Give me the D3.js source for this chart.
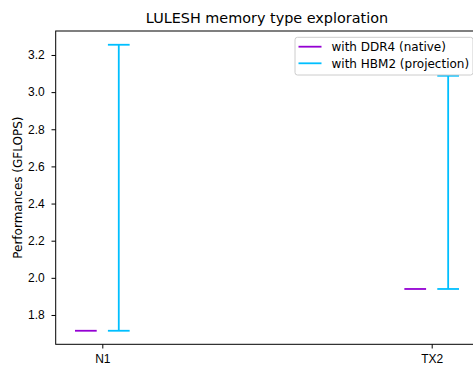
<!DOCTYPE html>
<html>
<head>
<meta charset="utf-8">
<script src="https://cdn.jsdelivr.net/npm/d3@7"></script>
<style>
  body { margin: 0; background: #fff; }
  svg { display: block; font-family: "DejaVu Sans", sans-serif; }
</style>
</head>
<body>
<svg id="chart" width="473" height="367"></svg>
<script>
// Machines and measured / projected performance (GFLOPS)
const machines = ["N1", "TX2"];
const ddr4Native = [1.715, 1.94];
const hbm2Low = [1.715, 1.94];
const hbm2High = [3.255, 3.088];
const yTicks = [1.8, 2.0, 2.2, 2.4, 2.6, 2.8, 3.0, 3.2];
const seriesNames = ["with DDR4 (native)", "with HBM2 (projection)"];
const seriesColors = ["#9400d3", "#00bfff"];

const svg = d3.select("#chart");
const plotL = 55.7, plotR = 478.3, plotT = 31, plotB = 344.3;

const x = d3.scaleLinear().domain([-0.1415, 1.1415]).range([plotL, plotR]);
const y = d3.scaleLinear().domain([1.6421, 3.3291]).range([plotB, plotT]);
const offset = 0.05;      // side-by-side shift of the two series
const halfCap = 0.033;    // half width of markers / caps

// x axis
const xAxis = d3.axisBottom(x).tickValues([0, 1]).tickFormat((d, i) => machines[i])
  .tickSize(4.2).tickSizeOuter(0);
const gx = svg.append("g").attr("transform", `translate(0,${plotB})`).call(xAxis);
gx.select(".domain").remove();
gx.selectAll("text").attr("font-size", 12).attr("fill", "#000").attr("y", 18.3).attr("dy", null);
gx.selectAll("line").attr("stroke", "#000").attr("stroke-width", 1);

// y axis
const yAxis = d3.axisLeft(y).tickValues(yTicks).tickFormat(d3.format(".1f"))
  .tickSize(4.2).tickSizeOuter(0);
const gy = svg.append("g").attr("transform", `translate(${plotL},0)`).call(yAxis);
gy.select(".domain").remove();
gy.selectAll("text").attr("font-size", 12).attr("fill", "#000").attr("x", -11);
gy.selectAll("line").attr("stroke", "#000").attr("stroke-width", 1);

// axes frame
svg.append("rect").attr("x", plotL).attr("y", plotT)
  .attr("width", plotR - plotL).attr("height", plotB - plotT)
  .attr("fill", "none").attr("stroke", "#000").attr("stroke-width", 1);

// DDR4 native markers
svg.append("g").selectAll("line").data(ddr4Native).join("line")
  .attr("x1", (d, i) => x(i - offset - halfCap))
  .attr("x2", (d, i) => x(i - offset + halfCap))
  .attr("y1", d => y(d)).attr("y2", d => y(d))
  .attr("stroke", seriesColors[0]).attr("stroke-width", 1.8);

// HBM2 projection ranges
const eb = svg.append("g").selectAll("g").data(machines).join("g")
  .attr("stroke", seriesColors[1]).attr("stroke-width", 1.8);
eb.append("line")
  .attr("x1", (d, i) => x(i + offset)).attr("x2", (d, i) => x(i + offset))
  .attr("y1", (d, i) => y(hbm2Low[i])).attr("y2", (d, i) => y(hbm2High[i]));
[hbm2Low, hbm2High].forEach(arr => {
  eb.append("line")
    .attr("x1", (d, i) => x(i + offset - halfCap))
    .attr("x2", (d, i) => x(i + offset + halfCap))
    .attr("y1", (d, i) => y(arr[i])).attr("y2", (d, i) => y(arr[i]));
});

// title
svg.append("text").attr("x", (plotL + plotR) / 2).attr("y", 22.5)
  .attr("text-anchor", "middle").attr("font-size", 14.4).attr("fill", "#000")
  .text("LULESH memory type exploration");

// y label
svg.append("text").attr("transform", `translate(21.5,${(plotT + plotB) / 2}) rotate(-90)`)
  .attr("text-anchor", "middle").attr("font-size", 12).attr("fill", "#000")
  .text("Performances (GFLOPS)");

// legend
const lg = svg.append("g");
lg.append("rect").attr("x", 295).attr("y", 37.3).attr("width", 178).attr("height", 37.7)
  .attr("rx", 2.5).attr("fill", "#fff").attr("fill-opacity", 0.8)
  .attr("stroke", "#ccc").attr("stroke-width", 1);
seriesNames.forEach((name, i) => {
  const cy = 46.7 + i * 16.6;
  lg.append("line").attr("x1", 298.5).attr("x2", 321.5).attr("y1", cy).attr("y2", cy)
    .attr("stroke", seriesColors[i]).attr("stroke-width", 1.8);
  lg.append("text").attr("x", 331.5).attr("y", cy).attr("dy", "0.35em")
    .attr("font-size", 12).attr("fill", "#000").text(name);
});
</script>
</body>
</html>
